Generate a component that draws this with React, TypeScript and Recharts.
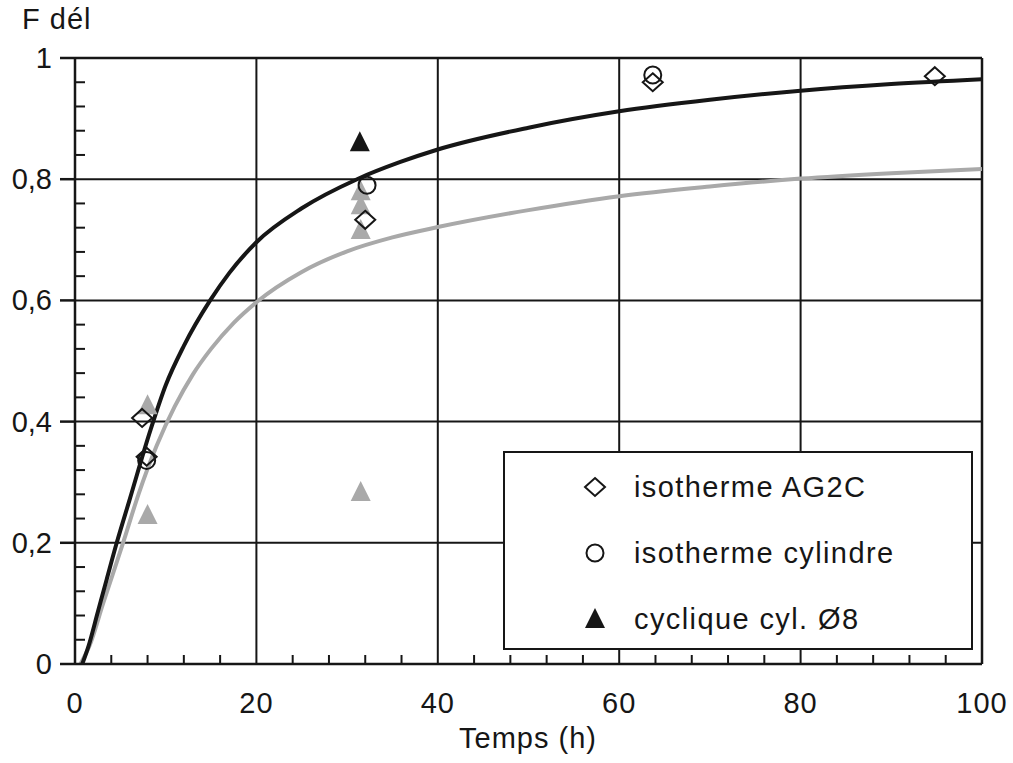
import React from 'react';
import {
  ComposedChart,
  Line,
  Scatter,
  XAxis,
  YAxis,
  ReferenceLine,
} from 'recharts';

// fitted curves
const blackT = [0.8, 1.5, 2.5, 3.5, 4.6, 6, 8.3, 10, 12, 14.9, 17, 20, 25, 31.1, 35.8, 40, 50, 60, 70, 80, 90, 100];
const blackF = [0, 0.03, 0.085, 0.14, 0.2, 0.27, 0.385, 0.46, 0.525, 0.6, 0.645, 0.696, 0.752, 0.8, 0.828, 0.849, 0.885, 0.912, 0.931, 0.946, 0.957, 0.965];

const greyT = [0.6, 1.6, 3.1, 5.3, 7, 9, 11, 13, 15, 17.5, 20, 25, 30, 35, 40, 50, 60, 70, 80, 90, 100];
const greyF = [0, 0.03, 0.1, 0.2, 0.28, 0.36, 0.425, 0.478, 0.52, 0.563, 0.597, 0.647, 0.681, 0.704, 0.721, 0.749, 0.772, 0.788, 0.801, 0.81, 0.817];

// measured points
const ag2cT = [7.4, 7.9, 32, 63.7, 94.8];
const ag2cF = [0.406, 0.342, 0.733, 0.96, 0.97];

const cylT = [7.9, 32.2, 63.7];
const cylF = [0.336, 0.79, 0.972];

const cyclT = [31.4];
const cyclF = [0.861];

const cyclGreyT = [8, 8, 31.5, 31.5, 31.5, 31.5];
const cyclGreyF = [0.427, 0.246, 0.78, 0.757, 0.716, 0.284];

const xTicks = [0, 4, 8, 12, 16, 20, 24, 28, 32, 36, 40, 44, 48, 52, 56, 60, 64, 68, 72, 76, 80, 84, 88, 92, 96, 100];
const xMajor = [0, 20, 40, 60, 80, 100];
const yTicks = [0, 0.04, 0.08, 0.12, 0.16, 0.2, 0.24, 0.28, 0.32, 0.36, 0.4, 0.44, 0.48, 0.52, 0.56, 0.6, 0.64, 0.68, 0.72, 0.76, 0.8, 0.84, 0.88, 0.92, 0.96, 1];
const yMajor = [0, 0.2, 0.4, 0.6, 0.8, 1];
const yLabels = ['0', '0,2', '0,4', '0,6', '0,8', '1'];

const zip = (t: number[], f: number[]) => t.map((v, i) => ({ t: v, f: f[i] }));

const INK = '#161616';
const GREY = '#a9a9a9';
const FONT = '"Liberation Sans", Arial, Helvetica, sans-serif';

const Diamond = ({ cx, cy }: any) => (
  <path d={`M${cx},${cy - 9} L${cx + 10},${cy} L${cx},${cy + 9} L${cx - 10},${cy} Z`} fill="none" stroke={INK} strokeWidth={2} />
);
const Circle = ({ cx, cy }: any) => <circle cx={cx} cy={cy} r={8.5} fill="none" stroke={INK} strokeWidth={2} />;
const triangle = (color: string) => ({ cx, cy }: any) => (
  <path d={`M${cx},${cy - 11} L${cx + 10},${cy + 9} L${cx - 10},${cy + 9} Z`} fill={color} />
);

const XTick = ({ x, y, payload }: any) => {
  const major = xMajor.includes(payload.value);
  if (major) {
    return (
      <text x={x} y={y + 49} textAnchor="middle" fontSize={29} fontFamily={FONT} fill={INK} letterSpacing={1}>
        {payload.value}
      </text>
    );
  }
  return <line x1={x} x2={x} y1={y} y2={y - 9} stroke={INK} strokeWidth={2} />;
};

const YTick = ({ x, y, payload }: any) => {
  const idx = yMajor.findIndex((m) => Math.abs(m - payload.value) < 1e-6);
  if (idx >= 0) {
    return (
      <g>
        <line x1={x} x2={x - 15} y1={y} y2={y} stroke={INK} strokeWidth={2.5} />
        <text x={x - 23} y={y + 10} textAnchor="end" fontSize={29} fontFamily={FONT} fill={INK}>
          {yLabels[idx]}
        </text>
      </g>
    );
  }
  return <line x1={x} x2={x + 10} y1={y} y2={y} stroke={INK} strokeWidth={2} />;
};

const legendItems = [
  { label: 'isotherme AG2C', kind: 'diamond' },
  { label: 'isotherme cylindre', kind: 'circle' },
  { label: 'cyclique cyl. Ø8', kind: 'triangle' },
];

function LegendBox() {
  return (
    <div
      style={{
        position: 'absolute',
        left: 503,
        top: 451,
        width: 466,
        height: 195,
        border: `2.5px solid ${INK}`,
        background: '#fff',
        fontFamily: FONT,
        fontSize: 29,
        letterSpacing: 1.4,
        color: INK,
      }}
    >
      {legendItems.map((it, i) => (
        <div key={it.label} style={{ position: 'absolute', left: 0, top: 14 + i * 66, height: 40, display: 'flex', alignItems: 'center' }}>
          <svg width={40} height={40} style={{ position: 'absolute', left: 70 }}>
            {it.kind === 'diamond' && <Diamond cx={20} cy={20} />}
            {it.kind === 'circle' && <Circle cx={20} cy={20} />}
            {it.kind === 'triangle' && triangle(INK)({ cx: 20, cy: 20 })}
          </svg>
          <span style={{ position: 'absolute', left: 129, whiteSpace: 'nowrap', lineHeight: '40px' }}>{it.label}</span>
        </div>
      ))}
    </div>
  );
}

export default function App() {
  return (
    <div style={{ position: 'absolute', left: 0, top: 0, width: 1013, height: 763, background: '#fff' }}>
      <ComposedChart width={1013} height={763} margin={{ top: 58, right: 31, bottom: 0, left: 0 }}>
        <XAxis
          type="number"
          dataKey="t"
          domain={[0, 100]}
          ticks={xTicks}
          interval={0}
          height={99}
          tickSize={0}
          tickMargin={0}
          tickLine={false}
          axisLine={{ stroke: INK, strokeWidth: 2.5 }}
          tick={<XTick />}
          allowDataOverflow
        />
        <YAxis
          type="number"
          dataKey="f"
          domain={[0, 1]}
          ticks={yTicks}
          interval={0}
          width={75}
          tickSize={0}
          tickMargin={0}
          tickLine={false}
          axisLine={{ stroke: INK, strokeWidth: 2.5 }}
          tick={<YTick />}
          allowDataOverflow
        />
        {[20, 40, 60, 80].map((v) => (
          <ReferenceLine key={`vx${v}`} x={v} stroke={INK} strokeWidth={2} />
        ))}
        {[0.2, 0.4, 0.6, 0.8].map((v) => (
          <ReferenceLine key={`hy${v}`} y={v} stroke={INK} strokeWidth={2} />
        ))}
        <ReferenceLine x={100} stroke={INK} strokeWidth={2.5} />
        <ReferenceLine y={1} stroke={INK} strokeWidth={2.5} />
        <Line data={zip(greyT, greyF)} dataKey="f" type="monotone" stroke={GREY} strokeWidth={4} dot={false} isAnimationActive={false} />
        <Line data={zip(blackT, blackF)} dataKey="f" type="monotone" stroke={INK} strokeWidth={4} dot={false} isAnimationActive={false} />
        <Scatter data={zip(cyclGreyT, cyclGreyF)} dataKey="f" shape={triangle(GREY)} isAnimationActive={false} />
        <Scatter data={zip(cyclT, cyclF)} dataKey="f" shape={triangle(INK)} isAnimationActive={false} />
        <Scatter data={zip(cylT, cylF)} dataKey="f" shape={Circle} isAnimationActive={false} />
        <Scatter data={zip(ag2cT, ag2cF)} dataKey="f" shape={Diamond} isAnimationActive={false} />
      </ComposedChart>
      <div style={{ position: 'absolute', left: 22, top: 3, fontFamily: FONT, fontSize: 29, letterSpacing: 1, color: INK }}>F dél</div>
      <div style={{ position: 'absolute', left: 0, width: 1056, top: 722, textAlign: 'center', fontFamily: FONT, fontSize: 29, letterSpacing: 1, color: INK }}>
        Temps (h)
      </div>
      <LegendBox />
    </div>
  );
}
